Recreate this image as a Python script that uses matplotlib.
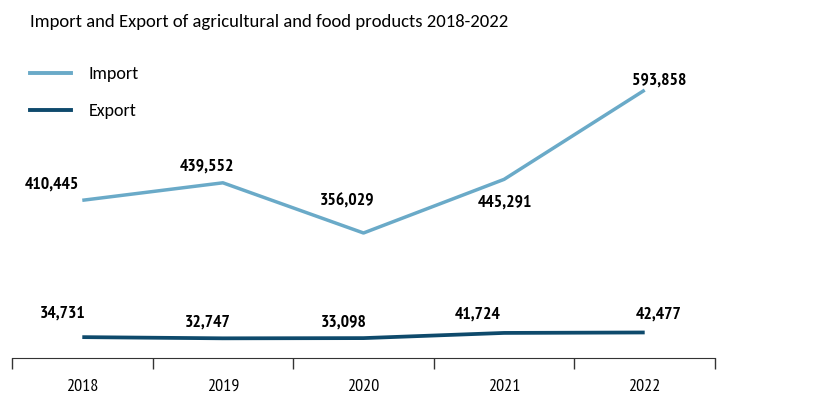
import matplotlib.pyplot as plt
from matplotlib.lines import Line2D

# Data
years = ['2018', '2019', '2020', '2021', '2022']
imports = [410445, 439552, 356029, 445291, 593858]
exports = [34731, 32747, 33098, 41724, 42477]

# label offsets in pixels (dx, dy) relative to each point
imp_off = [(-30, 16), (-16, 16), (-16, 31), (1, -23), (14, 10)]
exp_off = [(-20, 24), (-15, 16), (-20, 16), (-26, 18), (14, 18)]

imp_color = '#6aaac8'
exp_color = '#0e4a6c'
label_font = 'PT Sans Narrow'
text_font = 'Carlito'

fig = plt.figure(figsize=(8.38, 4.08), dpi=100)
ax = fig.add_axes([12 / 838, 50 / 408, 703 / 838, 298 / 408])
ax2 = ax.twinx()

x = list(range(len(years)))
ax.plot(x, imports, color=imp_color, lw=2.5, solid_capstyle='butt')
ax2.plot(x, exports, color=exp_color, lw=2.7, solid_capstyle='butt')

# import scale shifted so both series share px per unit
ax.set_ylim(148000, 643900)
ax2.set_ylim(0, 495900)
ax.set_xlim(-0.5, 4.5)

for xi, v, (dx, dy) in zip(x, imports, imp_off):
    ax.annotate(f'{v:,}', (xi, v), xytext=(dx, dy), textcoords='offset pixels',
                ha='center', va='center', fontsize=12.7, fontweight='bold',
                family=label_font, color='black')
for xi, v, (dx, dy) in zip(x, exports, exp_off):
    ax2.annotate(f'{v:,}', (xi, v), xytext=(dx, dy), textcoords='offset pixels',
                 ha='center', va='center', fontsize=12.7, fontweight='bold',
                 family=label_font, color='black')

for a in (ax, ax2):
    for s in ('top', 'right', 'left'):
        a.spines[s].set_visible(False)
    a.set_yticks([])
ax2.spines['bottom'].set_visible(False)
ax.spines['bottom'].set_color('#333333')

ax.set_xticks(x)
ax.set_xticklabels(years, family=label_font, fontsize=13)
ax.tick_params(axis='x', which='major', length=0, pad=15)
ax.set_xticks([i - 0.5 for i in range(len(years) + 1)], minor=True)
ax.tick_params(axis='x', which='minor', length=8, width=1, color='#333333', direction='out')

fig.text(30 / 838, 1 - 22 / 408, 'Import and Export of agricultural and food products 2018-2022',
         fontsize=13.4, family=text_font, va='center', ha='left')

handles = [Line2D([], [], color=imp_color, lw=2.8), Line2D([], [], color=exp_color, lw=2.8)]
fig.legend(handles, ['Import', 'Export'], loc='upper left', bbox_to_anchor=(14 / 838, 1 - 50 / 408),
           frameon=False, prop={'family': text_font, 'size': 13}, handlelength=2.25,
           handletextpad=1.0, labelspacing=1.15)

fig.savefig('out.png', dpi=100)
